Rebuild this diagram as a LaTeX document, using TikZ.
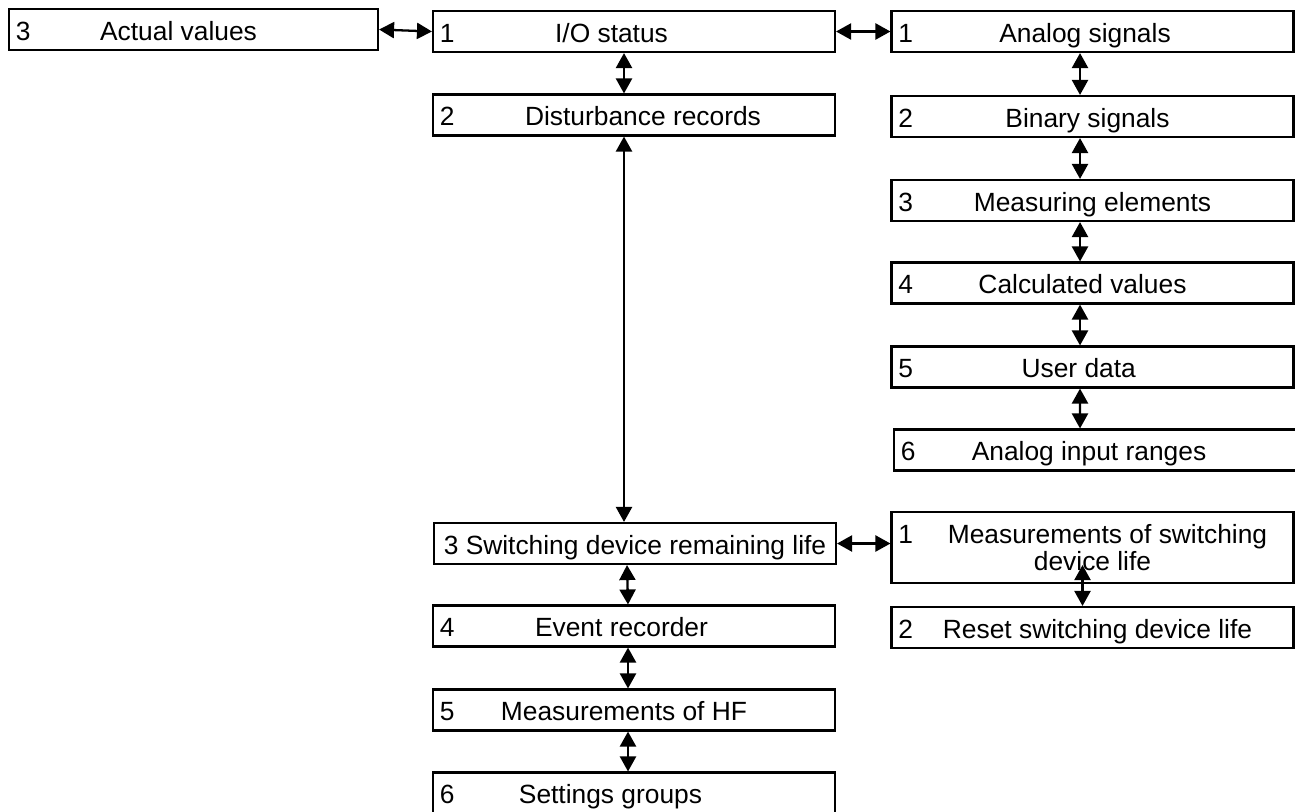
\documentclass[tikz,border=0pt]{standalone}
\usepackage{fontspec}
\setmainfont{Liberation Sans}
\usetikzlibrary{arrows.meta}

\tikzset{
  menubox/.style={draw, line width=1.2pt, minimum width=8.04cm, minimum height=0.82cm, inner sep=1pt,
    text height=13.5pt, text depth=1pt},
  link/.style={line width=1.3pt, {Triangle[length=0.3cm,width=0.32cm]}-{Triangle[length=0.3cm,width=0.32cm]}},
  num/.style={anchor=west, inner sep=0pt, xshift=0.15cm, text height=13.5pt, text depth=1pt}
}

\begin{document}
\begin{tikzpicture}[font=\fontsize{15}{17.5}\selectfont]

\useasboundingbox (0,0) rectangle (25.9,-16.22);

% Top level
\node[menubox, minimum width=7.38cm, label={[num]west:3}] (actual) at (3.87,-0.59) {\hspace*{-0.6cm}Actual values};

% Left column
\node[menubox, label={[num]west:1}] (io) at (12.68,-0.63) {\hspace*{-0.9cm}I/O status};
\node[menubox, label={[num]west:2}] (dist) at (12.68,-2.30) {\hspace*{0.36cm}Disturbance records};
\node[menubox] (switch) at (12.70,-10.87) {3 Switching device remaining life};
\node[menubox, label={[num]west:4}] (event) at (12.68,-12.52) {\hspace*{-0.5cm}Event recorder};
\node[menubox, label={[num]west:5}] (hf) at (12.68,-14.20) {\hspace*{-0.4cm}Measurements of HF};
\node[menubox, label={[num]west:6}] (settings) at (12.68,-15.86) {\hspace*{-0.94cm}Settings groups};

% Right column: I/O status
\node[menubox, label={[num]west:1}] (analog) at (21.85,-0.63) {\hspace*{-0.3cm}Analog signals};
\node[menubox, label={[num]west:2}] (binary) at (21.85,-2.33) {\hspace*{-0.2cm}Binary signals};
\node[menubox, label={[num]west:3}] (measuring) at (21.85,-4.01) {Measuring elements};
\node[menubox, label={[num]west:4}] (calc) at (21.85,-5.66) {\hspace*{-0.4cm}Calculated values};
\node[menubox, label={[num]west:5}] (user) at (21.85,-7.34) {\hspace*{-0.55cm}User data};
\node[menubox, label={[num]west:6}] (ranges) at (21.90,-9.00) {\hspace*{-0.24cm}Analog input ranges};

% Right column: switching device life
\node[menubox, minimum height=1.42cm, text height=, text depth=, align=center,
  label={[num, yshift=0.3cm]west:1}] (msw) at (21.85,-10.95)
  {\hspace*{0.6cm}Measurements of switching\\[-2pt]device life};
\node[menubox, label={[num]west:2}] (reset) at (21.85,-12.55) {\hspace*{0.2cm}Reset switching device life};

% Horizontal links
\draw[link] (actual.east) -- (io.west);
\draw[link] (io.east) -- (analog.west);
\draw[link] (switch.east) -- (switch.east -| msw.west);

% Left column links
\draw[link] ([xshift=-0.2cm]io.south) -- ([xshift=-0.2cm]dist.north);
\draw[link] ([xshift=-0.2cm]dist.south) -- ([xshift=-0.2cm]dist.south |- switch.north);
\draw[link] ([xshift=-0.16cm]switch.south) -- ([xshift=-0.12cm]event.north);
\draw[link] ([xshift=-0.12cm]event.south) -- ([xshift=-0.12cm]hf.north);
\draw[link] ([xshift=-0.12cm]hf.south) -- ([xshift=-0.12cm]settings.north);

% Right column links
\draw[link] ([xshift=-0.25cm]analog.south) -- ([xshift=-0.25cm]binary.north);
\draw[link] ([xshift=-0.25cm]binary.south) -- ([xshift=-0.25cm]measuring.north);
\draw[link] ([xshift=-0.25cm]measuring.south) -- ([xshift=-0.25cm]calc.north);
\draw[link] ([xshift=-0.25cm]calc.south) -- ([xshift=-0.25cm]user.north);
\draw[link] ([xshift=-0.25cm]user.south) -- ([xshift=-0.3cm]ranges.north);
\draw[link] ([xshift=-0.2cm, yshift=0.38cm]msw.south) -- ([xshift=-0.2cm]reset.north);

\end{tikzpicture}
\end{document}
